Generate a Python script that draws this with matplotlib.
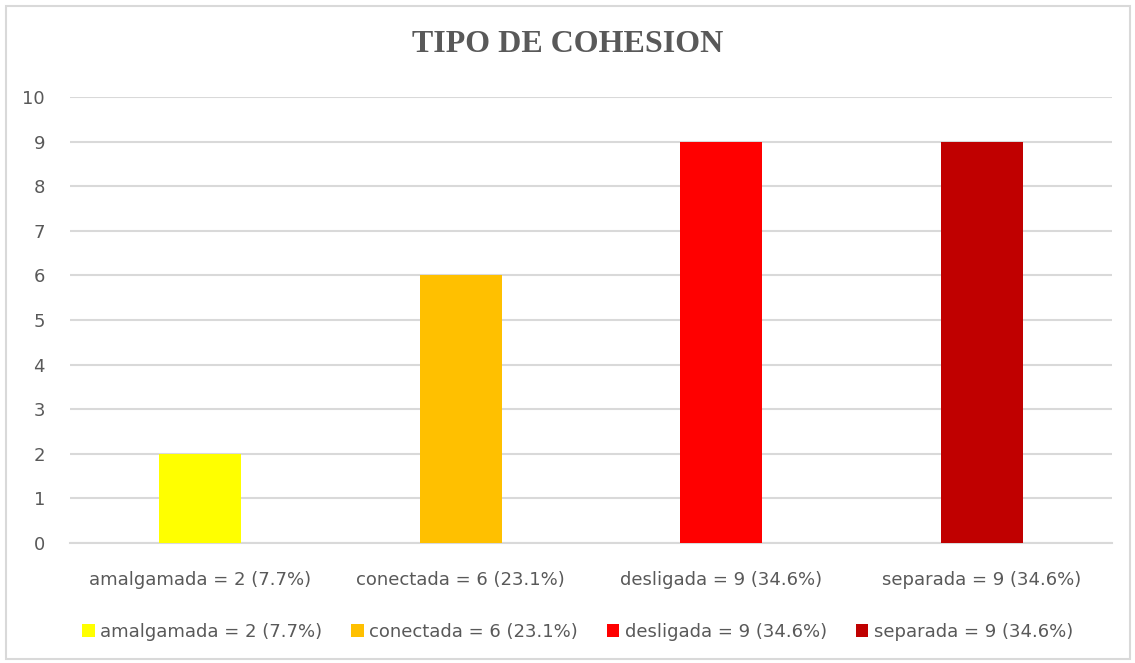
import matplotlib
matplotlib.use('Agg')
import matplotlib.pyplot as plt
from matplotlib.patches import Rectangle

categorias = ['amalgamada = 2 (7.7%)', 'conectada = 6 (23.1%)',
              'desligada = 9 (34.6%)', 'separada = 9 (34.6%)']
valores = [2, 6, 9, 9]
colores = ['#FFFF00', '#FFC000', '#FF0000', '#C00000']
yticks = list(range(0, 11))

fig = plt.figure(figsize=(11.35, 6.63), dpi=100)
ax = fig.add_axes([70 / 1135, 1 - 543 / 663, 1042 / 1135, 446 / 663])

x = range(len(categorias))
for i in x:
    ax.bar(i, valores[i], width=0.315, color=colores[i], label=categorias[i], zorder=3)

ax.set_xlim(-0.5, len(categorias) - 0.5)
ax.set_ylim(0, 10)
ax.set_yticks(yticks)
ax.yaxis.grid(True, color='#d9d9d9', linewidth=1.5, zorder=0)
ax.set_xticks(list(x))
ax.set_xticklabels(categorias)
for s in ['top', 'right', 'left']:
    ax.spines[s].set_visible(False)
ax.spines['bottom'].set_color('#d9d9d9')
ax.spines['bottom'].set_linewidth(1.5)
ax.tick_params(length=0, labelsize=13, labelcolor='#595959')
ax.tick_params(axis='x', pad=20)
ax.tick_params(axis='y', pad=18)

fig.text(0.5, 1 - 45 / 663, 'TIPO DE COHESION', ha='center', va='center',
         fontsize=23, fontweight='bold', color='#595959', family='Liberation Serif')

leg = fig.legend(loc='center', bbox_to_anchor=(0.5 + 10 / 1135, 1 - 632 / 663), ncol=4,
                 frameon=False, fontsize=13, handlelength=0.7, handleheight=0.7,
                 handletextpad=0.3, columnspacing=1.6)
for t in leg.get_texts():
    t.set_color('#595959')

fig.patches.append(Rectangle((6 / 1135, 4 / 663), 1124 / 1135, 653 / 663,
                             transform=fig.transFigure, fill=False,
                             edgecolor='#d9d9d9', linewidth=1.5))

fig.savefig('out.png', dpi=100)
